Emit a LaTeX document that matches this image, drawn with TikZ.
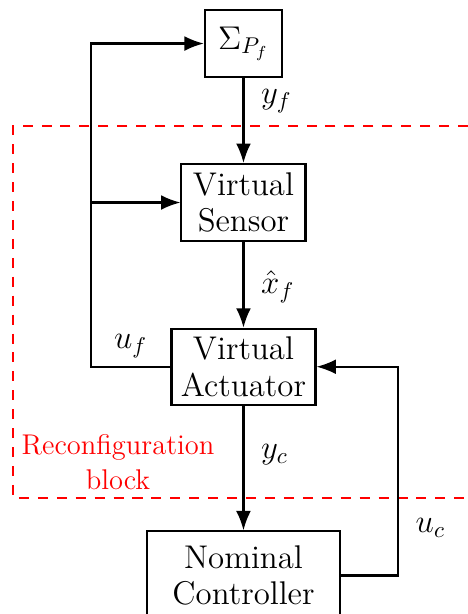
\documentclass[tikz,border=0pt]{standalone}
\usetikzlibrary{arrows.meta,positioning}
\begin{document}
\begin{tikzpicture}[font={\fontsize{14.4}{16}\selectfont},
		blk/.style={draw,line width=0.9pt,align=center,inner sep=2pt},
		arr/.style={line width=0.9pt,-{Latex[length=8.5pt,width=6.5pt]}},
		rcf/.style={red,line width=0.9pt,dash pattern=on 4.4pt off 3.9pt}]
			\useasboundingbox (0,0) rectangle (7.212,9.462);
			\clip (0,0) rectangle (7.212,9.462);
			\node[blk,minimum width=1.19cm,minimum height=1.03cm] (sig) at (3.752,8.791) {$\Sigma_{P_f}$};
			\node[blk,minimum width=1.911cm,minimum height=1.187cm,below=1.31cm of sig] (sen) {Virtual\\Sensor};
			\node[blk,minimum width=2.219cm,minimum height=1.171cm,below=1.32cm of sen] (act) {Virtual\\Actuator};
			\node[blk,minimum width=2.974cm,minimum height=1.36cm,below=1.92cm of act] (ctrl) {Nominal\\Controller};
			\path (1.402,0) coordinate (lft)
			(6.133,0) coordinate (rgt);
			\draw[rcf] (7.212,7.52)--(0.2,7.52)--(0.2,1.788)--(7.212,1.788);
			\node[red,font={\fontsize{12.5}{15}\selectfont},align=center] (rcb) at (1.818,2.342) {Reconfiguration\\block};
			\draw[arr] (sig.south) -- node[pos=0.27,right=4pt]{$y_f$} (sen.north);
			\draw[arr] (sen.south) -- node[pos=0.52,right=4pt]{$\hat{x}_f$} (act.north);
			\draw[arr] (act.south) -- node[pos=0.39,right=4pt]{$y_c$} (ctrl.north);
			\draw[arr] (ctrl.east) -- (ctrl.east -| rgt) -- node[pos=0.23,right=4pt]{$u_c$} (act.east -| rgt) -- (act.east);
			\draw[arr] (act.west) -- node[above]{$u_f$} (act.west -| lft) |- (sig.west);
			\draw[arr] (sen.west -| lft) -- (sen.west);
		\end{tikzpicture}
\end{document}
